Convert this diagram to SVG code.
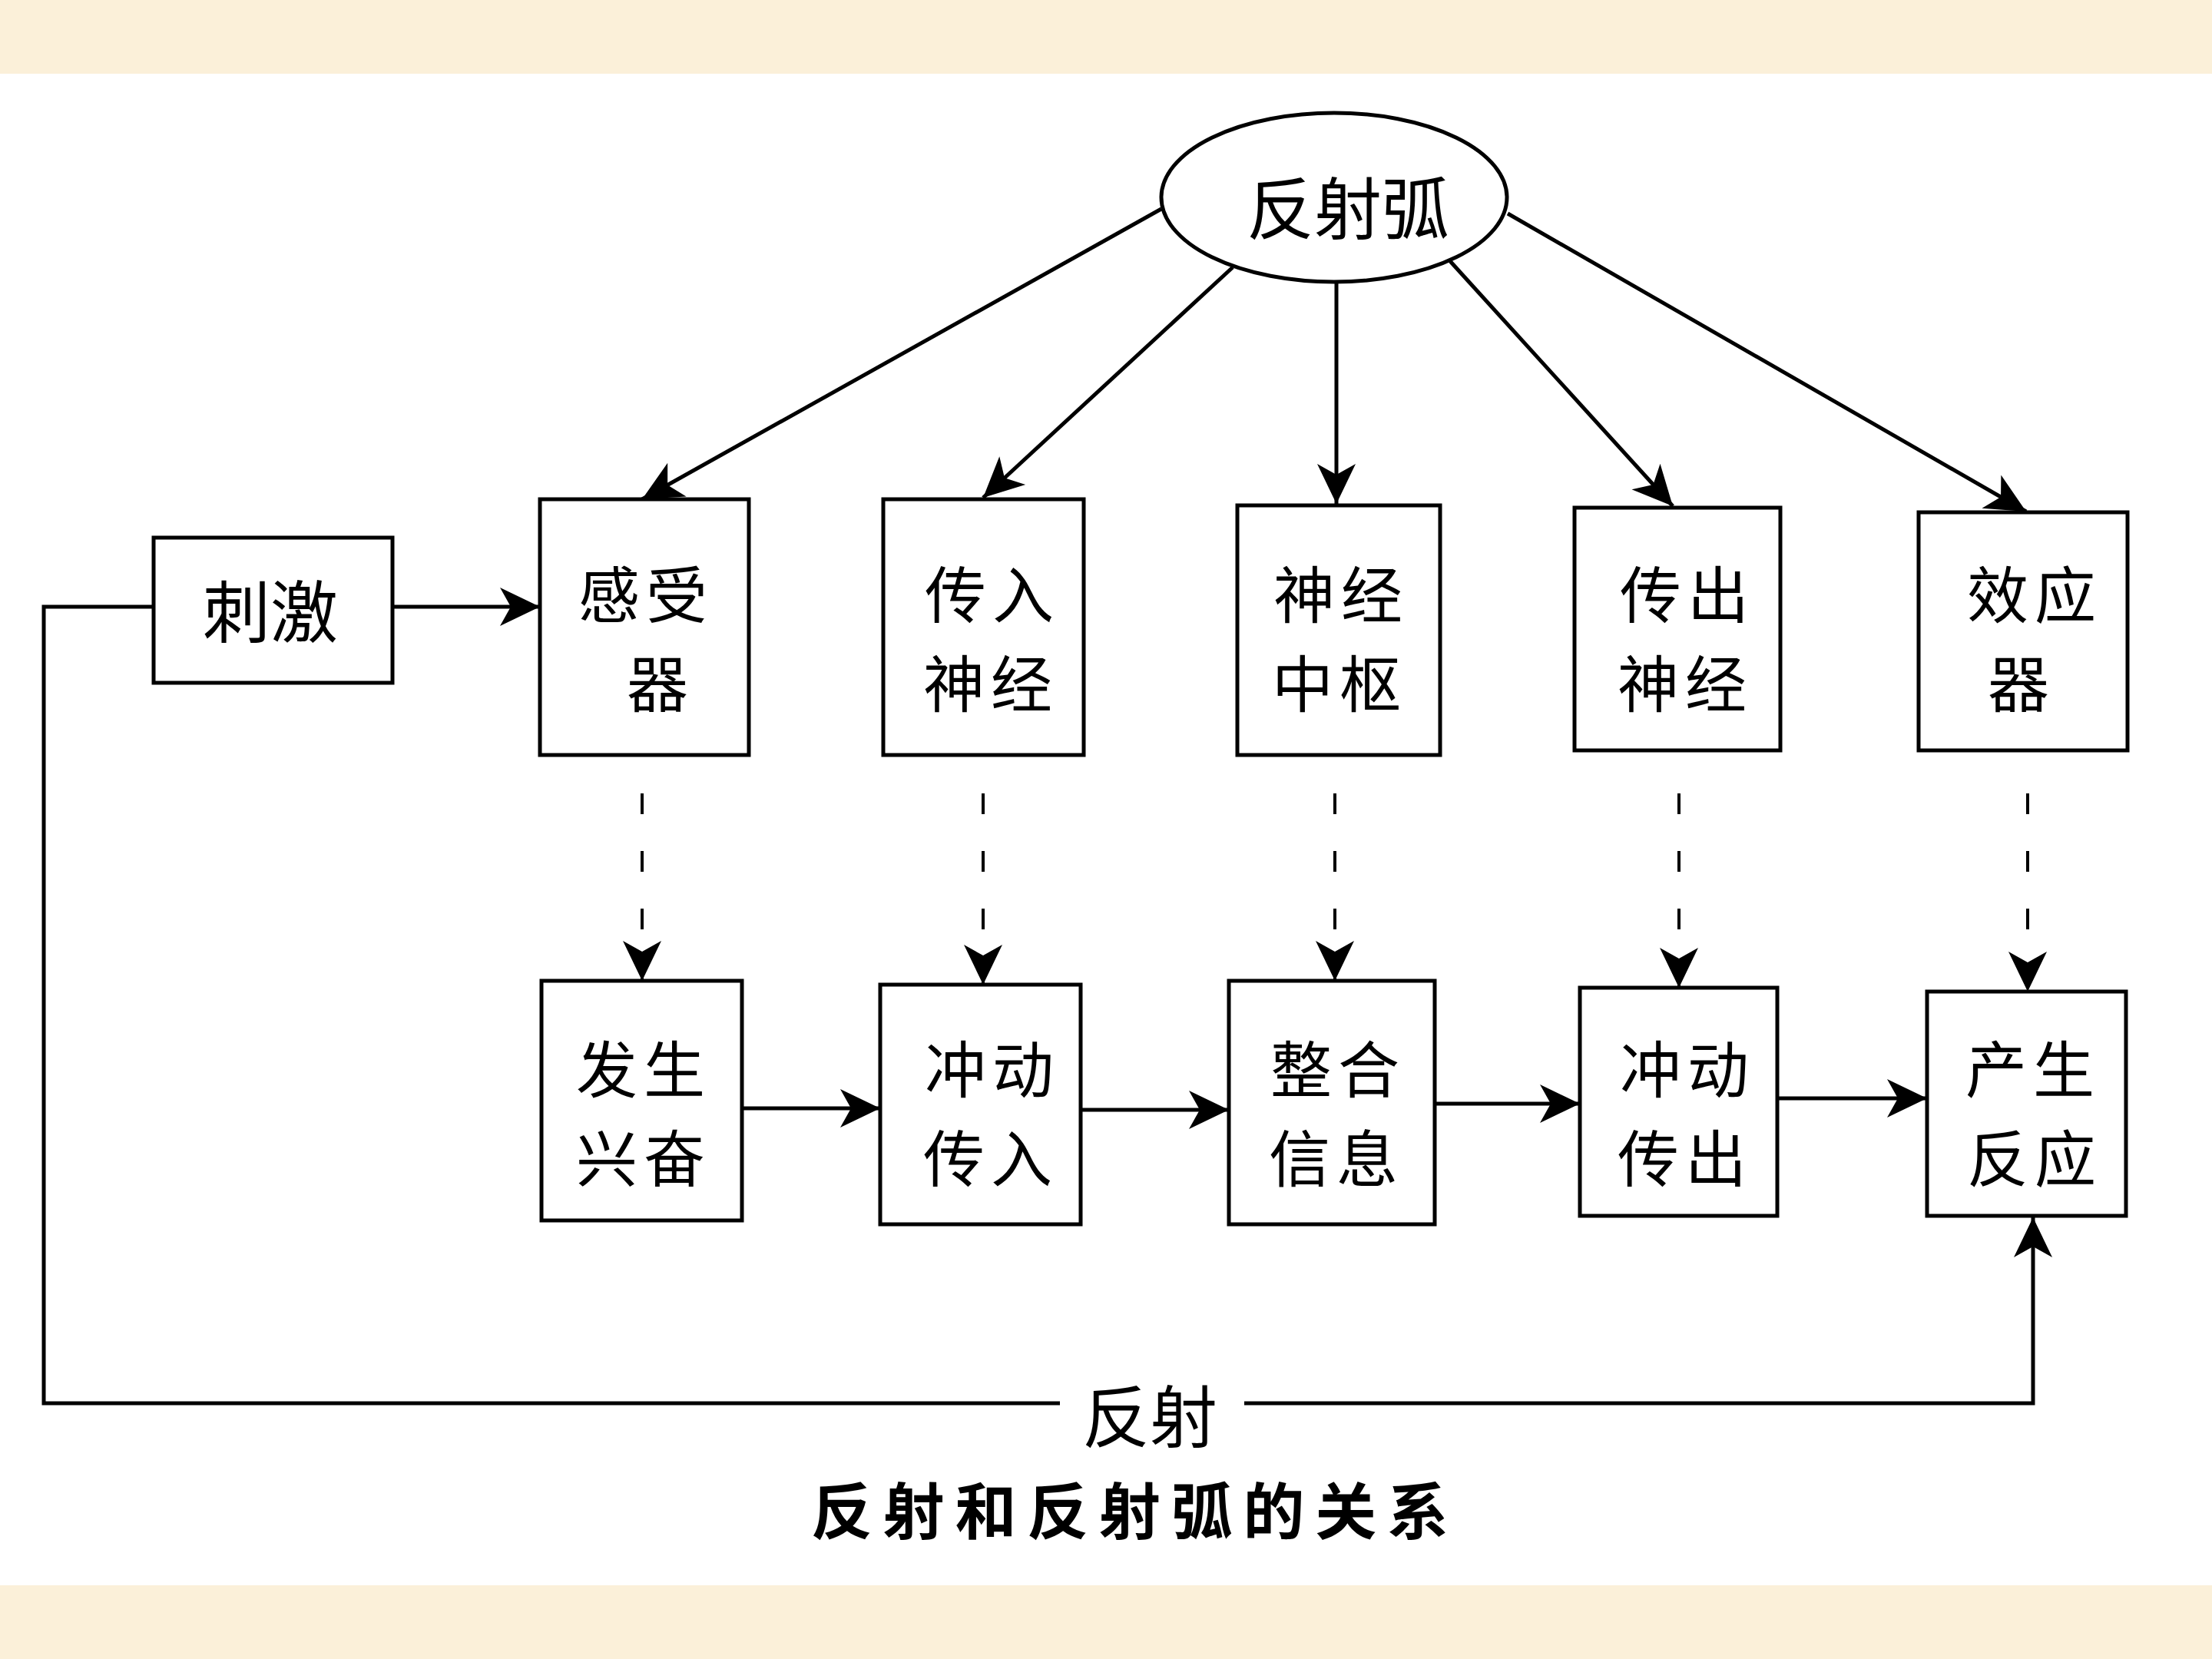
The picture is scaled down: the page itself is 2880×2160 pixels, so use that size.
<svg xmlns="http://www.w3.org/2000/svg" width="2880" height="2160" viewBox="0 0 2880 2160">
<defs>
<style>
.box{fill:#fff;stroke:#000;stroke-width:5}
.ln{fill:none;stroke:#000;stroke-width:5}
.dash{fill:none;stroke:#000;stroke-width:4;stroke-dasharray:27 48}
.t{font-family:"Noto Sans CJK SC","Noto Sans CJK TC",sans-serif;font-size:88px;text-anchor:middle;dominant-baseline:central;fill:#000}
.t2{font-family:"Noto Sans CJK SC","Noto Sans CJK TC",sans-serif;font-size:80px;letter-spacing:8px;text-anchor:middle;dominant-baseline:central;fill:#000}
.title{font-family:"Noto Sans CJK SC",sans-serif;font-size:80px;font-weight:bold;text-anchor:middle;dominant-baseline:central;fill:#000}
</style>
<marker id="ah" viewBox="-58 -28 60 56" refX="0" refY="0" markerWidth="60" markerHeight="56" markerUnits="userSpaceOnUse" orient="auto">
<path d="M0,0 L-52,-25 L-38,0 L-52,25 Z" fill="#000"/>
</marker>
</defs>
<rect x="0" y="0" width="2880" height="2160" fill="#fff"/>
<rect x="0" y="0" width="2880" height="96" fill="#FBF0D9"/>
<rect x="0" y="2064" width="2880" height="96" fill="#FBF0D9"/>

<g id="connectors">
<path class="ln" d="M1512,272 L836,650" marker-end="url(#ah)"/>
<path class="ln" d="M1605,348 L1280,648" marker-end="url(#ah)"/>
<path class="ln" d="M1740,367 L1740,656" marker-end="url(#ah)"/>
<path class="ln" d="M1888,340 L2178,659" marker-end="url(#ah)"/>
<path class="ln" d="M1963,278 L2638,666" marker-end="url(#ah)"/>
<path class="ln" d="M511,790 L703,790" marker-end="url(#ah)"/>
<path class="dash" d="M836,1033 L836,1277" marker-end="url(#ah)"/>
<path class="dash" d="M1280,1033 L1280,1282" marker-end="url(#ah)"/>
<path class="dash" d="M1738,1033 L1738,1277" marker-end="url(#ah)"/>
<path class="dash" d="M2186,1033 L2186,1286" marker-end="url(#ah)"/>
<path class="dash" d="M2640,1033 L2640,1291" marker-end="url(#ah)"/>
<path class="ln" d="M966,1443 L1146,1443" marker-end="url(#ah)"/>
<path class="ln" d="M1407,1445 L1600,1445" marker-end="url(#ah)"/>
<path class="ln" d="M1868,1437 L2057,1437" marker-end="url(#ah)"/>
<path class="ln" d="M2314,1430 L2509,1430" marker-end="url(#ah)"/>
<path class="ln" d="M200,790 L57,790 L57,1827 L1380,1827"/>
<path class="ln" d="M1620,1827 L2647,1827 L2647,1585" marker-end="url(#ah)"/>
<text class="t" x="1497" y="1838" font-size="84">反射</text>
</g>

<g id="reflex-arc">
<ellipse cx="1737" cy="257" rx="225" ry="110" class="box"/>
<text class="t" x="1755" y="265" font-size="92">反射弧</text>
</g>

<g id="stimulus">
<rect class="box" x="200" y="700" width="311" height="189"/>
<text class="t" x="352" y="790">刺激</text>
</g>
<g id="receptor">
<rect class="box" x="703" y="650" width="272" height="333"/>
<text class="t2"><tspan x="841" y="769">感受</tspan><tspan x="860" y="885">器</tspan></text>
</g>
<g id="afferent-nerve">
<rect class="box" x="1150" y="650" width="261" height="333"/>
<text class="t2"><tspan x="1292" y="769">传入</tspan><tspan x="1290" y="885">神经</tspan></text>
</g>
<g id="center">
<rect class="box" x="1611" y="658" width="264" height="325"/>
<text class="t2"><tspan x="1746" y="769">神经</tspan><tspan x="1744" y="885">中枢</tspan></text>
</g>
<g id="efferent-nerve">
<rect class="box" x="2050" y="661" width="268" height="316"/>
<text class="t2"><tspan x="2197" y="769">传出</tspan><tspan x="2194" y="885">神经</tspan></text>
</g>
<g id="effector">
<rect class="box" x="2498" y="667" width="272" height="310"/>
<text class="t2"><tspan x="2649" y="769">效应</tspan><tspan x="2632" y="885">器</tspan></text>
</g>

<g id="excitation">
<rect class="box" x="705" y="1277" width="261" height="312"/>
<text class="t2"><tspan x="838" y="1387">发生</tspan><tspan x="838" y="1503">兴奋</tspan></text>
</g>
<g id="impulse-in">
<rect class="box" x="1146" y="1282" width="261" height="312"/>
<text class="t2"><tspan x="1292" y="1387">冲动</tspan><tspan x="1290" y="1503">传入</tspan></text>
</g>
<g id="integrate">
<rect class="box" x="1600" y="1277" width="268" height="317"/>
<text class="t2"><tspan x="1742" y="1387">整合</tspan><tspan x="1740" y="1503">信息</tspan></text>
</g>
<g id="impulse-out">
<rect class="box" x="2057" y="1286" width="257" height="297"/>
<text class="t2"><tspan x="2197" y="1387">冲动</tspan><tspan x="2194" y="1503">传出</tspan></text>
</g>
<g id="response">
<rect class="box" x="2509" y="1291" width="259" height="292"/>
<text class="t2"><tspan x="2647" y="1387">产生</tspan><tspan x="2649" y="1503">反应</tspan></text>
</g>

<text class="title" x="1471" y="1962" textLength="830" lengthAdjust="spacing">反射和反射弧的关系</text>
</svg>
